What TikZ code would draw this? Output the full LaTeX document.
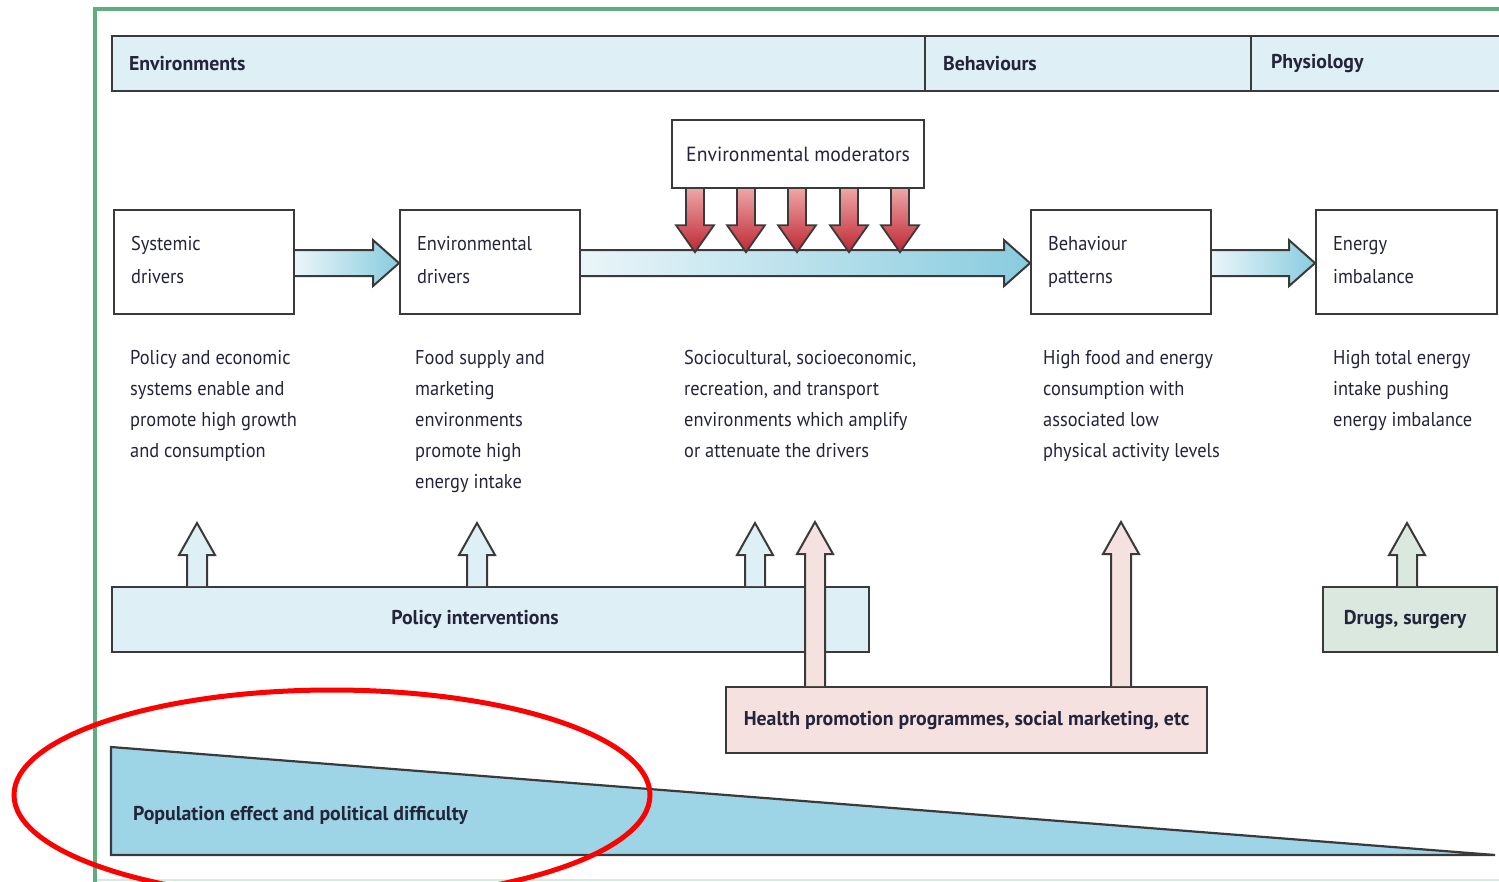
\documentclass[tikz,border=0pt]{standalone}
\usepackage{fontspec}
\setmainfont{PT Sans}[FakeStretch=0.92, BoldFeatures={FakeStretch=0.99}]
\usetikzlibrary{calc}

\definecolor{hdrblue}{HTML}{DFEFF6}
\definecolor{frameg}{HTML}{5FAE7E}
\definecolor{ink}{HTML}{24243A}
\definecolor{edge}{HTML}{3A3A3A}
\definecolor{arrL}{HTML}{EAF5F9}
\definecolor{arrR}{HTML}{88CCDF}
\definecolor{redL}{HTML}{EDA5A5}
\definecolor{redD}{HTML}{BE2633}
\definecolor{pinkf}{HTML}{F5E1DF}
\definecolor{greenf}{HTML}{DAE8E0}
\definecolor{triblue}{HTML}{9DD4E6}

% block arrow pointing up: style, base point, length
\newcommand\blockup[3]{%
  \fill[#1, shift={#2}] (-10,0) -- (-10,-#3+32) -- (-18,-#3+32) -- (0,-#3)
       -- (18,-#3+32) -- (10,-#3+32) -- (10,0) -- cycle;
  \draw[edge, line width=2pt, line join=miter, shift={#2}] (-10,0) -- (-10,-#3+32) -- (-18,-#3+32) -- (0,-#3)
       -- (18,-#3+32) -- (10,-#3+32) -- (10,0);}
% red block arrow pointing down: base point, length
\newcommand\blockdown[2]{%
  \filldraw[top color=redL, bottom color=redD, draw=edge, line width=1.8pt, shift={#1}]
       (-9,0) -- (-9,#2-27) -- (-19,#2-27) -- (0,#2) -- (19,#2-27) -- (9,#2-27) -- (9,0);}
% shaded block arrow between two nodes, left to right
\newcommand\blockright[2]{%
  \filldraw[left color=arrL, right color=arrR, draw=edge, line width=2pt]
    let \p1=(#1), \p2=(#2) in
    (\x1,\y1-1pt+13pt) -- (\x2-26pt,\y1-1pt+13pt) -- (\x2-26pt,\y1-1pt+23pt) -- (\x2,\y1-1pt)
    -- (\x2-26pt,\y1-1pt-23pt) -- (\x2-26pt,\y1-1pt-13pt) -- (\x1,\y1-1pt-13pt);}
% two-line box label with fixed baselines
\newcommand\twolines[2]{\strut#1\\\strut#2\par\vspace{4pt}}

\begin{document}
\begin{tikzpicture}[x=1pt,y=-1pt,
  every node/.style={text=ink},
  txt/.style={font=\fontsize{20}{31}\selectfont},
  btxt/.style={font=\fontsize{20}{31}\selectfont\bfseries},
  lbox/.style={draw=edge, line width=2.2pt, anchor=north west, inner xsep=17pt, inner ysep=0pt, align=left},
  hdr/.style={lbox, fill=hdrblue, minimum height=55pt, btxt},
  drv/.style={lbox, fill=white, minimum height=104pt, text width=146pt, font=\fontsize{20}{33}\selectfont},
  desc/.style={txt, anchor=north west, inner sep=0pt, align=left},
  cbox/.style={draw=edge, line width=2.2pt, anchor=north west, inner sep=0pt, align=center, btxt}]

\useasboundingbox (0,0) rectangle (1499,882);

% outer frame
\draw[frameg!25, line width=2pt] (95,880) -- (1499,880);
\draw[frameg, line width=3.4pt] (95,882) -- (95,9) -- (1499,9);

% header strip
\node[hdr, text width=779pt] (henv) at (111,35) {Environments};
\node[hdr, text width=292pt, inner xsep=18pt] (hbeh) at (924,35) {Behaviours};
\node[hdr, text width=209pt, inner xsep=20pt] (hphy) at (1250,35) {Physiology};

% environmental moderators
\node[cbox, fill=white, minimum width=252pt, minimum height=68pt, font=\fontsize{20.5}{31}\selectfont\addfontfeature{FakeStretch=0.96}] (mod) at (671,119) {Environmental moderators};

% drivers chain
\node[drv] (sys) at (113,209) {\twolines{Systemic}{drivers}};
\node[drv] (env) at (399,209) {\twolines{Environmental}{drivers}};
\node[drv] (beh) at (1030,209) {\twolines{Behaviour}{patterns}};
\node[drv, text width=147pt] (ene) at (1315,209) {\twolines{Energy}{imbalance}};

\blockright{sys.east}{env.west}
\blockright{env.east}{beh.west}
\blockright{beh.east}{ene.west}

\foreach \dx in {24,75,126,178,229}{%
  \blockdown{($(mod.south west)+(\dx,0)$)}{63}}

% descriptions
\node[desc] (dsys) at (130,350) {Policy and economic\\systems enable and\\promote high growth\\and consumption};
\node[desc] (denv) at (415,350) {Food supply and\\marketing\\environments\\promote high\\energy intake};
\node[desc] (dmod) at (684,350) {Sociocultural, socioeconomic,\\recreation, and transport\\environments which amplify\\or attenuate the drivers};
\node[desc] (dbeh) at (1043,350) {High food and energy\\consumption with\\associated low\\physical activity levels};
\node[desc] (dene) at (1333,350) {High total energy\\intake pushing\\energy imbalance};

% interventions
\node[cbox, fill=hdrblue, minimum width=757pt, minimum height=65pt] (pol) at (111,586) {\hspace*{-31pt}Policy interventions};
\node[cbox, fill=pinkf, minimum width=481pt, minimum height=66pt] (hp) at (725,686) {Health promotion programmes, social marketing, etc};
\node[cbox, fill=greenf, minimum width=174pt, minimum height=65pt] (dr) at (1322,586) {\hspace*{-10pt}Drugs, surgery};

\blockup{hdrblue}{($(pol.north west)+(86,0)$)}{63}
\blockup{hdrblue}{($(pol.north west)+(366,0)$)}{63}
\blockup{hdrblue}{($(pol.north west)+(644,0)$)}{63}
\blockup{pinkf}{($(hp.north west)+(90,0)$)}{164}
\blockup{pinkf}{($(hp.north west)+(396,0)$)}{164}
\blockup{greenf}{($(dr.north west)+(85,0)$)}{63}

% population effect wedge
\filldraw[fill=triblue, draw=edge, line width=2.2pt, line join=miter] (111,747) -- (1495,855) -- (111,855) -- cycle;
\node[btxt, anchor=west, inner sep=0pt] (popl) at (133,815) {Population effect and political difficulty};

% highlight ring
\draw[red, line width=5pt] (332,795) ellipse [x radius=318, y radius=105];
\end{tikzpicture}
\end{document}
